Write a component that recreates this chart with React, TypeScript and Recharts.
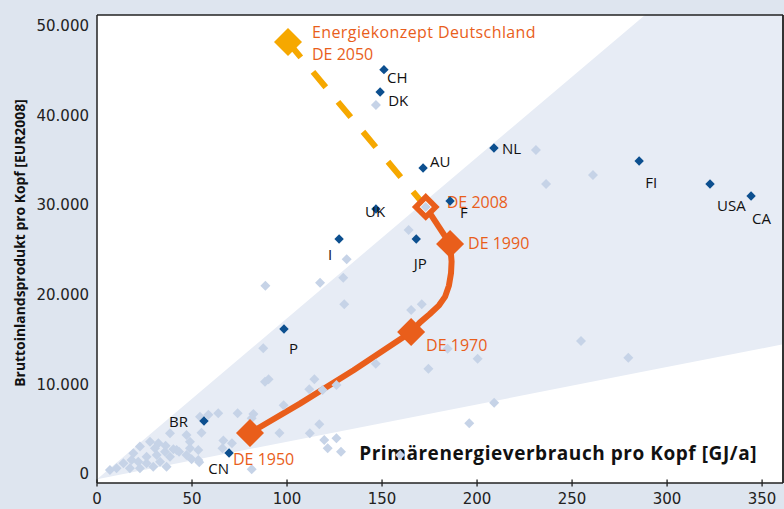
import React from 'react';
import {
  ComposedChart,
  XAxis,
  YAxis,
  Scatter,
  Line,
  Area,
  CartesianGrid,
  ReferenceLine,
} from 'recharts';

// ---------- data ----------
const xTicks = [0, 50, 100, 150, 200, 250, 300, 350];
const yTicks = [0, 10000, 20000, 30000, 40000, 50000];

const xTitle = 'Primärenergieverbrauch pro Kopf [GJ/a]';
const yTitle = 'Bruttoinlandsprodukt pro Kopf [EUR2008]';

// labelled countries
const countryNames = ['CH', 'DK', 'AU', 'NL', 'FI', 'USA', 'CA', 'F', 'UK', 'I', 'JP', 'P', 'BR', 'CN'];
const countryEnergy = [151, 149, 171.6, 208.9, 285.3, 322.6, 344.2, 185.8, 146.8, 127.4, 168, 98.4, 56.3, 69.5];
const countryGdp = [44900, 42400, 33930, 36160, 34710, 32140, 30800, 30250, 29350, 26000, 26000, 15960, 5690, 2120];

// other (unlabelled) countries
const otherEnergy = [
  6.8, 10.3, 13.9, 17.3, 18.2, 19.1, 21.7, 22.6, 22.6, 26.1, 26.1, 27.9, 29.6, 30.5, 31.4, 32.3, 33.2, 35.8,
  36.6, 38.4, 38.4, 41.9, 40.2, 43.2, 36.1, 47.1, 48.9, 48.9, 47.1, 53.3, 49.8, 53.3, 53.8, 55, 54.2, 58.6,
  63.8, 66.5, 71, 66, 74, 82.3, 81.4, 81.4, 88.4, 90.3, 87.5, 88.6, 98.2, 96,
  131.4, 129.6, 117.4, 130.1, 165.3, 170.9, 254.7, 279.6, 184.5, 200.3, 146.7, 174.4, 114.4, 111.7, 118.7,
  126, 209, 117, 195.9, 112, 119.6, 126, 121.4, 128.4, 159.5,
  146.8, 231, 261, 236.3, 164,
];
const otherGdp = [
  220, 410, 970, 410, 1340, 2090, 1150, 410, 2830, 970, 1710, 3380, 590, 2640, 1900, 3200, 1150, 2270,
  590, 1710, 4320, 2460, 2530, 2270, 2940, 4130, 3380, 2650, 1900, 1340, 1410, 2460, 1080, 4390, 6170, 6400,
  6550, 3500, 3200, 2640, 6550, 6470, 5990, 300, 10080, 10350, 13800, 20790, 7440, 4350,
  23740, 21690, 21130, 18720, 18080, 18720, 14620, 12760, 13760, 12650, 12090, 11530, 10350, 9230, 9150,
  9710, 7730, 5320, 5430, 4320, 3570, 3760, 2640, 2270, 1900,
  40960, 35940, 33150, 32140, 27000,
];

// Germany over time
const deNames = ['DE 1950', 'DE 1970', 'DE 1990'];
const deEnergy = [80.5, 165.3, 185.8];
const deGdp = [4350, 15625, 25450];
const de2008Energy = 173;
const de2008Gdp = 29580;
const de2050Energy = 100.5;
const de2050Gdp = 47990;
const de2008Label = 'DE 2008';
const de2050Labels = ['Energiekonzept Deutschland', 'DE 2050'];

// path of Germany 1950 -> 1990
const pathEnergy = [80.5, 106.8, 135, 165.3, 170, 175, 180, 183.2, 185.2, 186.3, 186.6, 185.8];
const pathGdp = [4350, 7630, 11350, 15625, 16700, 17600, 18600, 19570, 20800, 22200, 23500, 25450];

// shaded band (boundaries)
const bandEnergy = [0, 288.4, 361];
const bandLow = [-800, 11230, 14250];
const bandHigh = [-800, 51000, 51000];

// ---------- derived tables ----------
const countries = countryNames.map((n, i) => ({ name: n, x: countryEnergy[i], y: countryGdp[i] }));
const others = otherEnergy.map((x, i) => ({ x, y: otherGdp[i] }));
const dePoints = deNames.map((n, i) => ({ name: n, x: deEnergy[i], y: deGdp[i] }));
const de2008 = [{ name: de2008Label, x: de2008Energy, y: de2008Gdp }];
const de2050 = [{ name: de2050Labels.join('|'), x: de2050Energy, y: de2050Gdp }];
const pathData = pathEnergy.map((x, i) => ({ x, y: pathGdp[i] }));
const lastLeg = [
  { x: deEnergy[2], y: deGdp[2] },
  { x: de2008Energy, y: de2008Gdp },
];
const futureLeg = [
  { x: de2050Energy, y: de2050Gdp },
  { x: de2008Energy, y: de2008Gdp },
];
const bandData = bandEnergy.map((x, i) => ({ x, band: [bandLow[i], bandHigh[i]] }));

// ---------- styles ----------
const ORANGE = '#e95e1b';
const YELLOW = '#f6a800';
const DARK = '#0c4f8f';
const LIGHT = '#c6d3e7';
const BAND = '#e7ecf5';
const BG = '#dee5ef';
const LABEL_FONT = '"Open Sans", "Noto Sans", sans-serif';
const TICK_FONT = '"DejaVu Sans", sans-serif';

const countryLabelPos: Record<string, [number, number, 'start' | 'middle' | 'end']> = {
  CH: [3, 7, 'start'],
  DK: [8, 8, 'start'],
  AU: [7, -7, 'start'],
  NL: [8, 0, 'start'],
  FI: [6, 21, 'start'],
  USA: [7, 21, 'start'],
  CA: [1, 22, 'start'],
  F: [10, 11, 'start'],
  UK: [-11, 2, 'start'],
  I: [-9, 15, 'middle'],
  JP: [4, 24, 'middle'],
  P: [5, 19, 'start'],
  BR: [-16, 0, 'end'],
  CN: [0, 15, 'end'],
};
const deLabelPos: Record<string, [number, number]> = {
  'DE 1950': [-17, 26],
  'DE 1970': [15, 13],
  'DE 1990': [18, -1],
};

const diamond = (cx: number, cy: number, h: number) =>
  `M${cx},${cy - h}L${cx + h},${cy}L${cx},${cy + h}L${cx - h},${cy}Z`;

const LightShape = (p: any) => <path d={diamond(p.cx, p.cy, 5)} fill={LIGHT} />;

const CountryShape = (p: any) => {
  const name = p.payload.name;
  const [dx, dy, anchor] = countryLabelPos[name] || [6, 0, 'start'];
  return (
    <g>
      <path d={diamond(p.cx, p.cy, 4.7)} fill={DARK} />
      <text
        x={p.cx + dx}
        y={p.cy + dy}
        textAnchor={anchor}
        dominantBaseline="central"
        fontFamily={LABEL_FONT}
        fontSize={15}
        fill="#111"
      >
        {name}
      </text>
    </g>
  );
};

const DeShape = (p: any) => {
  const name = p.payload.name;
  const [dx, dy] = deLabelPos[name] || [16, 0];
  return (
    <g>
      <path d={diamond(p.cx, p.cy, 14)} fill={ORANGE} />
      <text
        x={p.cx + dx}
        y={p.cy + dy}
        dominantBaseline="central"
        fontFamily={LABEL_FONT}
        fontSize={16}
        fill={ORANGE}
      >
        {name}
      </text>
    </g>
  );
};

const De2008Shape = (p: any) => (
  <g>
    <path d={diamond(p.cx, p.cy, 10)} fill="#fff" stroke={ORANGE} strokeWidth={5.5} />
    <path d={diamond(p.cx, p.cy, 5)} fill={LIGHT} />
    <text
      x={p.cx + 21}
      y={p.cy - 5}
      dominantBaseline="central"
      fontFamily={LABEL_FONT}
      fontSize={16}
      fill={ORANGE}
    >
      {p.payload.name}
    </text>
  </g>
);

const De2050Shape = (p: any) => {
  const lines = String(p.payload.name).split('|');
  return (
    <g>
      <path d={diamond(p.cx, p.cy, 14)} fill={YELLOW} />
      <text
        x={p.cx + 24}
        y={p.cy - 10}
        dominantBaseline="central"
        fontFamily={LABEL_FONT}
        fontSize={16}
        letterSpacing={0.4}
        fill={ORANGE}
      >
        {lines[0]}
      </text>
      <text x={p.cx + 24} y={p.cy + 12} dominantBaseline="central" fontFamily={LABEL_FONT} fontSize={16} fill={ORANGE}>
        {lines[1]}
      </text>
    </g>
  );
};

const XTick = (p: any) => (
  <g>
    <line x1={p.x} x2={p.x} y1={p.y - 13.5} y2={p.y - 6.5} stroke="#222" strokeWidth={1.3} />
    <text x={p.x} y={p.y} dy="0.71em" textAnchor="middle" fontFamily={TICK_FONT} fontSize={15} fill="#222">
      {p.payload.value}
    </text>
  </g>
);

const fmtY = (v: number) => (v === 0 ? '0' : `${Math.round(v / 1000)}.000`);

const XTitle = (p: any) => {
  const vb = p.viewBox;
  return (
    <text
      x={vb.x + vb.width - 26}
      y={vb.y - 30}
      textAnchor="end"
      dominantBaseline="central"
      fontFamily={LABEL_FONT}
      fontWeight={700}
      fontSize={19}
      letterSpacing={0.55}
      fill="#111"
    >
      {xTitle}
    </text>
  );
};

const YTitle = (p: any) => {
  const vb = p.viewBox;
  const cx = vb.x + 19;
  const cy = vb.y + vb.height / 2 - 6;
  return (
    <text
      x={cx}
      y={cy}
      transform={`rotate(-90 ${cx} ${cy})`}
      textAnchor="middle"
      dominantBaseline="central"
      fontFamily={LABEL_FONT}
      fontWeight={700}
      fontSize={13.9}
      fill="#111"
    >
      {yTitle}
    </text>
  );
};

export default function App() {
  return (
    <div style={{ position: 'absolute', left: 0, top: 0, width: 784, height: 509, background: BG }}>
      <ComposedChart width={784} height={509} margin={{ top: 15, right: 1, bottom: 0, left: 0 }}>
        <CartesianGrid fill="#ffffff" horizontal={false} vertical={false} />
        <XAxis
          dataKey="x"
          type="number"
          domain={[0, 361]}
          allowDataOverflow
          ticks={xTicks}
          height={26}
          tickSize={0}
          tickMargin={10}
          tickLine={false}
          tick={XTick}
          axisLine={{ stroke: '#222', strokeWidth: 1.5 }}
          label={{ content: XTitle }}
        />
        <YAxis
          type="number"
          domain={[-1230, 51000]}
          allowDataOverflow
          ticks={yTicks}
          width={97}
          tickSize={0}
          tickMargin={8}
          tickLine={false}
          tickFormatter={fmtY}
          tick={{ fill: '#222', fontSize: 15, fontFamily: TICK_FONT, dy: 2 }}
          axisLine={{ stroke: '#222', strokeWidth: 1.5 }}
          label={{ content: YTitle }}
        />
        <ReferenceLine x={361} stroke="#333" strokeWidth={2} />
        <ReferenceLine y={51000} stroke="#222" strokeWidth={1.5} />
        <Area
          data={bandData}
          dataKey="band"
          type="linear"
          stroke="none"
          fill={BAND}
          fillOpacity={1}
          isAnimationActive={false}
          activeDot={false}
        />
        <Scatter data={others} dataKey="y" shape={LightShape} isAnimationActive={false} />
        <Line
          data={futureLeg}
          dataKey="y"
          type="linear"
          stroke={YELLOW}
          strokeWidth={6}
          strokeDasharray="20 19"
          dot={false}
          activeDot={false}
          isAnimationActive={false}
        />
        <Line
          data={pathData}
          dataKey="y"
          type="linear"
          stroke={ORANGE}
          strokeWidth={6}
          strokeLinejoin="round"
          dot={false}
          activeDot={false}
          isAnimationActive={false}
        />
        <Line
          data={lastLeg}
          dataKey="y"
          type="linear"
          stroke={ORANGE}
          strokeWidth={6}
          dot={false}
          activeDot={false}
          isAnimationActive={false}
        />
        <Scatter data={dePoints} dataKey="y" shape={DeShape} isAnimationActive={false} />
        <Scatter data={de2008} dataKey="y" shape={De2008Shape} isAnimationActive={false} />
        <Scatter data={de2050} dataKey="y" shape={De2050Shape} isAnimationActive={false} />
        <Scatter data={countries} dataKey="y" shape={CountryShape} isAnimationActive={false} />
      </ComposedChart>
    </div>
  );
}
